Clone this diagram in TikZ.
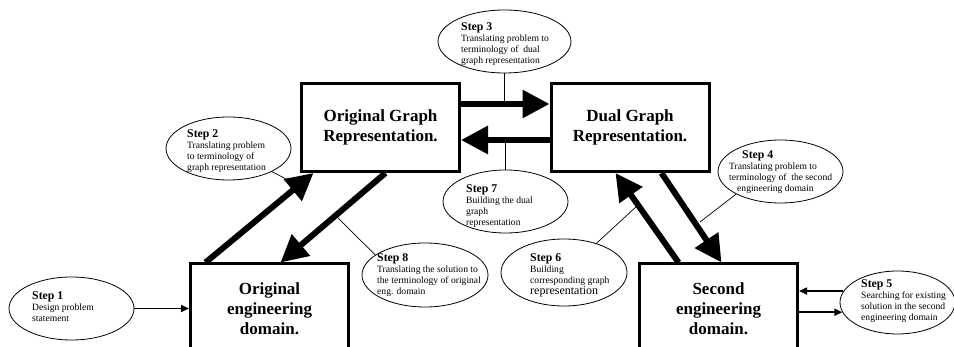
\documentclass[tikz,border=0pt]{standalone}
\usepackage{fontspec}
\setmainfont{Liberation Serif}
\usetikzlibrary{arrows.meta,shapes.geometric}

% bold heading used at the top of every step bubble
\newcommand\stephead[1]{{\fontsize{11.8}{13}\selectfont\bfseries Step #1}}

\begin{document}
\begin{tikzpicture}[x=1pt,y=-1pt,
  domainbox/.style={draw, line width=3pt, minimum width=158pt, minimum height=88pt,
    inner sep=0pt, align=center, font=\fontsize{17}{20}\selectfont\bfseries},
  stepell/.style={draw, ellipse, line width=0.8pt, inner sep=0pt},
  steptext/.style={anchor=west, align=left, inner sep=0pt, font=\fontsize{9.6}{11}\selectfont},
  bigflow/.style={line width=6pt, -{Triangle[length=27pt,width=27pt]}},
  smallflow/.style={line width=1.6pt, -{Triangle[length=8pt,width=7pt]}},
  leader/.style={line width=0.7pt},
]
\useasboundingbox (0,0) rectangle (954,347);
\clip (0,0) rectangle (954,347);

% the four domain / representation boxes
\node[domainbox] (ogr) at (380.5,127.5) {Original Graph\\Representation.};
\node[domainbox] (dgr) at (630,127.5) {Dual Graph\\Representation.};
\node[domainbox, minimum height=89pt, anchor=north] (ode) at (269.5,262.5) {Original\\engineering\\domain.};
\node[domainbox, minimum height=89pt, anchor=north] (sed) at (718.5,262.5) {Second\\engineering\\domain.};

% step bubbles
\node[stepell, minimum width=125pt, minimum height=63pt] (e1) at (71.5,308.5) {};
\node[stepell, minimum width=125pt, minimum height=63pt] (e2) at (228.5,148.5) {};
\node[stepell, minimum width=133pt, minimum height=63pt] (e3) at (504.5,41.5) {};
\node[stepell, minimum width=125pt, minimum height=63pt] (e4) at (780.5,171.5) {};
\node[stepell, minimum width=115pt, minimum height=63pt] (e5) at (897.5,302.5) {};
\node[stepell, minimum width=126pt, minimum height=67pt] (e6) at (564,272.5) {};
\node[stepell, minimum width=125pt, minimum height=63pt] (e7) at (505.5,201.5) {};
\node[stepell, minimum width=126pt, minimum height=64pt] (e8) at (425,275) {};

\node[steptext] (t1) at (32,307) {\stephead{1}\\Design problem\\statement};
\node[steptext] (t2) at (187,151) {\stephead{2}\\Translating problem\\to terminology of\\graph representation};
\node[steptext] (t3) at (461,44) {\stephead{3}\\Translating problem to\\terminology of\ \ dual\\graph representation};
\node[steptext] (t4) at (729,172.5) {\hspace*{13pt}\stephead{4}\\Translating problem to\\terminology of\ \ the second\\\hspace*{8pt}engineering domain};
\node[steptext] (t5) at (861,301.5) {\stephead{5}\\Searching for existing\\solution in the second\\engineering domain};
\node[steptext] (t6) at (530,275.5) {\stephead{6}\\Building\\corresponding graph\\{\fontsize{12}{13}\selectfont representation}};
\node[steptext] (t7) at (466,206) {\stephead{7}\\Building the dual\\graph\\representation};
\node[steptext] (t8) at (377,275.5) {\stephead{8}\\Translating the solution to\\the terminology of original\\eng. domain};

% points where the leader lines meet the flow arrows
\coordinate (a3) at ([yshift=23.5pt]ogr.east);
\coordinate (a7) at ([yshift=-12.5pt]dgr.west);
\coordinate (l2) at (288,180);
\coordinate (l8) at (338,218);
\coordinate (l4) at (700,222);
\coordinate (l6) at (637,206);

% leader lines from the bubbles to their arrows
\draw[leader] (e3.south) -- (e3.south |- a3);
\draw[leader] (e7.north) -- (e7.north |- a7);
\draw[leader] (e2.-28) -- (l2);
\draw[leader] (l8) -- (e8.158);
\draw[leader] (l4) -- (e4.207);
\draw[leader] (e6.42) -- (l6);

% main flow between domains and graph representations
\draw[bigflow] ([xshift=16.5pt]ode.north west) -- ([xshift=13.5pt]ogr.south west);
\draw[bigflow] ([xshift=85.5pt]ogr.south west) -- ([xshift=91.5pt]ode.north west);
\draw[bigflow] (a3) -- ([yshift=23.5pt]dgr.west);
\draw[bigflow] (a7) -- ([yshift=-12.5pt]ogr.east);
\draw[bigflow] ([xshift=112pt]dgr.south west) -- ([xshift=83.5pt]sed.north west);
\draw[bigflow] ([xshift=40.5pt]sed.north west) -- ([xshift=66pt]dgr.south west);

% problem statement in, search loop out
\draw[smallflow] (e1.east) -- (e1.east -| ode.west);
\draw[smallflow] (e5.168) -- (e5.168 -| sed.east);
\draw[smallflow] (e5.190 -| sed.east) -- (e5.190);
\end{tikzpicture}
\end{document}
